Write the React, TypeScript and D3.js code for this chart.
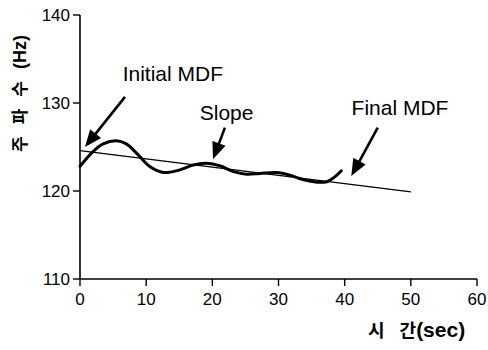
import * as d3 from 'd3';

// MDF over time (sec, Hz)
const mdfTime = [0, 2, 3.5, 5.5, 7, 8.8, 10.6, 12.6, 15.1, 17.1, 19.1, 21.2, 23.2, 25.2, 27.2, 29.7, 31.7, 33.7, 35.8, 37.3, 38.5, 39.5];
const mdfValue = [122.8, 124.5, 125.35, 125.7, 125.35, 124.1, 122.75, 122.1, 122.4, 122.95, 123.15, 122.85, 122.2, 121.9, 122.0, 122.1, 121.8, 121.3, 121.0, 121.05, 121.6, 122.3];

// fitted slope line
const slopeTime = [0, 50];
const slopeValue = [124.6, 119.9];

const xTicks = [0, 10, 20, 30, 40, 50, 60];
const yTicks = [110, 120, 130, 140];

// annotation text + arrow (from -> tip), in data units
const notes = [
  { label: 'Initial MDF', tx: 6.45, ty: 132.5, x1: 6.8, y1: 130.7, x2: 0.76, y2: 125.0 },
  { label: 'Slope', tx: 18.1, ty: 128.1, x1: 21.9, y1: 127.2, x2: 20.1, y2: 123.6 },
  { label: 'Final MDF', tx: 41.05, ty: 128.65, x1: 45.0, y1: 127.2, x2: 41.0, y2: 121.7 },
];

const latin = 'Liberation Sans, Arial, Helvetica, sans-serif';
const korean = '"Noto Sans CJK KR", "Liberation Sans", sans-serif';

export default function App() {
  const width = 488;
  const height = 350;
  const x = d3.scaleLinear().domain([0, 60]).range([80, 477]);
  const y = d3.scaleLinear().domain([110, 140]).range([279, 15]);

  const pts = mdfTime.map((t, i) => [t, mdfValue[i]] as [number, number]);
  const curve =
    d3
      .line<[number, number]>()
      .x((d) => x(d[0]))
      .y((d) => y(d[1]))
      .curve(d3.curveCatmullRom.alpha(0.5))(pts) ?? '';

  const arrowHead = (x1: number, y1: number, x2: number, y2: number) => {
    const ang = Math.atan2(y2 - y1, x2 - x1);
    const len = 17;
    const half = 7;
    const bx = x2 - len * Math.cos(ang);
    const by = y2 - len * Math.sin(ang);
    const px = -Math.sin(ang) * half;
    const py = Math.cos(ang) * half;
    return `M${x2},${y2}L${bx + px},${by + py}L${bx - px},${by - py}Z`;
  };

  return (
    <svg
      width={width}
      height={height}
      viewBox={`0 0 ${width} ${height}`}
      style={{ position: 'absolute', left: 0, top: 0, background: '#fff' }}
    >
      {/* axes */}
      <line x1={80} x2={80} y1={y(140)} y2={y(110)} stroke="#000" strokeWidth={1.6} />
      <line x1={80} x2={x(60)} y1={y(110)} y2={y(110)} stroke="#000" strokeWidth={1.6} />
      {yTicks.map((t) => (
        <g key={`y${t}`}>
          <line x1={73} x2={80} y1={y(t)} y2={y(t)} stroke="#000" strokeWidth={1.4} />
          <text x={70} y={y(t)} dy="0.36em" textAnchor="end" fontFamily={latin} fontSize={17}>
            {t}
          </text>
        </g>
      ))}
      {xTicks.map((t) => (
        <g key={`x${t}`}>
          <line x1={x(t)} x2={x(t)} y1={y(110)} y2={y(110) + 7} stroke="#000" strokeWidth={1.4} />
          <text x={x(t)} y={305} textAnchor="middle" fontFamily={latin} fontSize={17}>
            {t}
          </text>
        </g>
      ))}

      {/* axis titles */}
      <text transform="translate(26,152) rotate(-90)" fontSize={17}>
        <tspan fontFamily={korean} fontWeight={600} letterSpacing={12}>주파수</tspan>
        <tspan fontFamily={latin} fontWeight="bold" fontSize={18}>(Hz)</tspan>
      </text>
      <text x={368} y={337} fontSize={18}>
        <tspan fontFamily={korean} fontWeight={600}>시</tspan>
        <tspan fontFamily={korean} fontWeight={600} dx={15}>간</tspan>
        <tspan fontFamily={latin} fontWeight="bold" fontSize={21}>(sec)</tspan>
      </text>

      {/* data */}
      <path
        d={`M${x(slopeTime[0])},${y(slopeValue[0])}L${x(slopeTime[1])},${y(slopeValue[1])}`}
        stroke="#000"
        strokeWidth={1.3}
        fill="none"
      />
      <path d={curve} fill="none" stroke="#000" strokeWidth={3} strokeLinecap="round" />

      {/* annotations */}
      {notes.map((n) => {
        const x1 = x(n.x1);
        const y1 = y(n.y1);
        const x2 = x(n.x2);
        const y2 = y(n.y2);
        const ang = Math.atan2(y2 - y1, x2 - x1);
        return (
          <g key={n.label}>
            <text x={x(n.tx)} y={y(n.ty)} fontFamily={latin} fontSize={21}>
              {n.label}
            </text>
            <line
              x1={x1}
              y1={y1}
              x2={x2 - 12 * Math.cos(ang)}
              y2={y2 - 12 * Math.sin(ang)}
              stroke="#000"
              strokeWidth={2.6}
            />
            <path d={arrowHead(x1, y1, x2, y2)} fill="#000" />
          </g>
        );
      })}
    </svg>
  );
}
